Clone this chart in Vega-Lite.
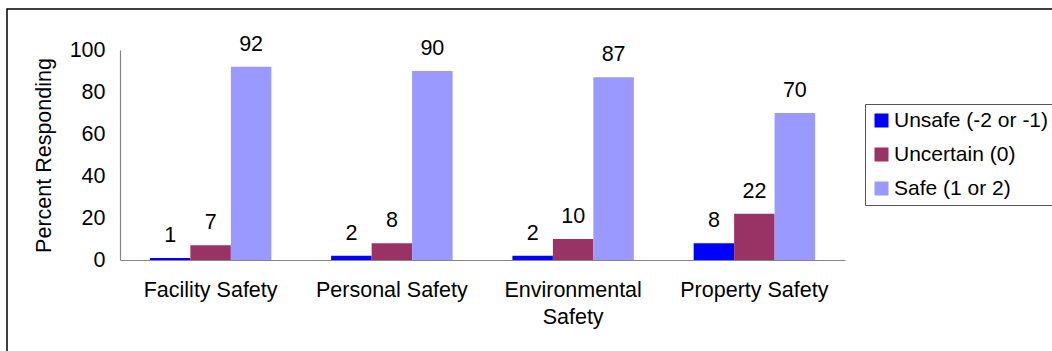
{
  "$schema": "https://vega.github.io/schema/vega-lite/v6.json",
  "autosize": "none",
  "width": 1065,
  "height": 362,
  "padding": {"left": 7, "top": 9, "right": -20, "bottom": -20},
  "background": "#ffffff",
  "config": {
    "font": "Liberation Sans",
    "view": {"stroke": "#000000", "strokeWidth": 1.5},
    "axis": {"grid": false, "ticks": false, "domainColor": "#868686", "domainWidth": 1.2, "labelColor": "#000000", "labelFontSize": 21.5, "titleColor": "#000000", "titleFontWeight": "normal", "titleFontSize": 21.5}
  },
  "data": {
    "values": [
      {"category": "Facility Safety", "series": "Unsafe (-2 or -1)", "pct": 1},
      {"category": "Facility Safety", "series": "Uncertain (0)", "pct": 7},
      {"category": "Facility Safety", "series": "Safe (1 or 2)", "pct": 92},
      {"category": "Personal Safety", "series": "Unsafe (-2 or -1)", "pct": 2},
      {"category": "Personal Safety", "series": "Uncertain (0)", "pct": 8},
      {"category": "Personal Safety", "series": "Safe (1 or 2)", "pct": 90},
      {"category": "Environmental Safety", "series": "Unsafe (-2 or -1)", "pct": 2},
      {"category": "Environmental Safety", "series": "Uncertain (0)", "pct": 10},
      {"category": "Environmental Safety", "series": "Safe (1 or 2)", "pct": 87},
      {"category": "Property Safety", "series": "Unsafe (-2 or -1)", "pct": 8},
      {"category": "Property Safety", "series": "Uncertain (0)", "pct": 22},
      {"category": "Property Safety", "series": "Safe (1 or 2)", "pct": 70}
    ]
  },
  "encoding": {
    "x": {
      "field": "category",
      "type": "nominal",
      "sort": ["Facility Safety", "Personal Safety", "Environmental Safety", "Property Safety"],
      "scale": {"range": [113, 838], "paddingInner": 0.33, "paddingOuter": 0.165},
      "axis": {
        "title": null,
        "labelAngle": 0,
        "offset": -111,
        "labelPadding": 19,
        "labelBaseline": "top",
        "labelLineHeight": 27,
        "labelExpr": "datum.value == 'Environmental Safety' ? ['Environmental', 'Safety'] : datum.value"
      }
    },
    "xOffset": {
      "field": "series",
      "type": "nominal",
      "sort": ["Unsafe (-2 or -1)", "Uncertain (0)", "Safe (1 or 2)"]
    },
    "y": {
      "field": "pct",
      "type": "quantitative",
      "scale": {"domain": [0, 100], "range": [251, 41], "nice": false},
      "axis": {
        "title": "Percent Responding",
        "values": [0, 20, 40, 60, 80, 100],
        "offset": -113,
        "labelPadding": 15,
        "titlePadding": 14
      }
    }
  },
  "layer": [
    {
      "mark": {"type": "bar"},
      "encoding": {
        "color": {
          "field": "series",
          "type": "nominal",
          "sort": ["Unsafe (-2 or -1)", "Uncertain (0)", "Safe (1 or 2)"],
          "scale": {
            "domain": ["Unsafe (-2 or -1)", "Uncertain (0)", "Safe (1 or 2)"],
            "range": ["#0000ff", "#993366", "#9999ff"]
          },
          "legend": {
            "title": null,
            "orient": "none",
            "legendX": 858,
            "legendY": 95,
            "symbolType": "square",
            "symbolSize": 196,
            "symbolStrokeWidth": 0,
            "labelFontSize": 21,
            "labelColor": "#000000",
            "labelOffset": 2,
            "rowPadding": 12,
            "padding": 6,
            "strokeColor": "#555555",
            "fillColor": "#ffffff"
          }
        }
      }
    },
    {
      "mark": {"type": "text", "fontSize": 21.5, "color": "#000000", "baseline": "alphabetic", "dy": -16},
      "encoding": {"text": {"field": "pct", "type": "quantitative"}}
    }
  ]
}
